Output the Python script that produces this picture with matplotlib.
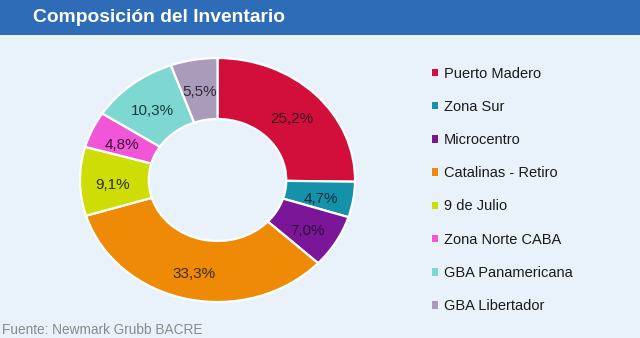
import matplotlib
matplotlib.use("Agg")
import matplotlib.pyplot as plt
from matplotlib.patches import Rectangle, Patch
import numpy as np

title = "Composición del Inventario"
source = "Fuente: Newmark Grubb BACRE"
categories = ["Puerto Madero", "Zona Sur", "Microcentro", "Catalinas - Retiro",
              "9 de Julio", "Zona Norte CABA", "GBA Panamericana", "GBA Libertador"]
values = [25.2, 4.7, 7.0, 33.3, 9.1, 4.8, 10.3, 5.5]
colors = ["#D20F3B", "#1592AA", "#7C1699", "#EE8A05", "#CFDD06",
          "#F256D8", "#7ED7D1", "#A99BB9"]
label_colors = ["#3A1420", "#10303A", "#2A1035", "#3A2A10", "#2A2E10",
                "#3A1035", "#10403C", "#2E2A3A"]

plt.rcParams['font.family'] = ['Liberation Sans', 'DejaVu Sans']

W, H = 640, 338
fig = plt.figure(figsize=(W / 100, H / 100), dpi=100)
bg = "#E9F2FA"
fig.patch.set_facecolor(bg)

# header band
fig.patches.append(Rectangle((0, 1 - 34.5 / H), 1, 34.5 / H, transform=fig.transFigure,
                             facecolor="#2E6CB7", edgecolor="none", zorder=0))
fig.text(33 / W, 1 - 18 / H, title, color="white", fontsize=13.9, fontweight="bold",
         va="center", ha="left")
fig.text(2.5 / W, 1 - 330 / H, source, color="#8A8A8A", fontsize=9.8, va="center", ha="left")

# donut
cx, cy, rx, ry = 217.5, 180, 137.5, 122
ax = fig.add_axes([(cx - rx) / W, 1 - (cy + ry) / H, 2 * rx / W, 2 * ry / H])
ax.set_facecolor("none")
wedges, _ = ax.pie(values, colors=colors, startangle=90, counterclock=False,
                   radius=1.0, wedgeprops=dict(width=0.5, edgecolor="white", linewidth=1.6))
ax.set_aspect("auto")
ax.set_xlim(-1.0, 1.0)
ax.set_ylim(-1.0, 1.0)
ax.axis("off")

for w, v, lc in zip(wedges, values, label_colors):
    ang = np.deg2rad((w.theta1 + w.theta2) / 2)
    r = 0.76
    ax.text(r * np.cos(ang), r * np.sin(ang) - 0.03, f"{v:.1f}".replace(".", ",") + "%",
            ha="center", va="center", fontsize=11, color=lc)

handles = [Patch(facecolor=c, edgecolor="none") for c in colors]
leg = fig.legend(handles, categories, loc="upper left",
                 bbox_to_anchor=(432 / W, 1 - 66.5 / H), frameon=False,
                 fontsize=10.5, handlelength=0.42, handleheight=0.42, handletextpad=0.4,
                 labelspacing=1.32, borderaxespad=0, borderpad=0)
for t in leg.get_texts():
    t.set_color("#1A1A1A")

fig.savefig("out.png", dpi=100, facecolor=bg)
